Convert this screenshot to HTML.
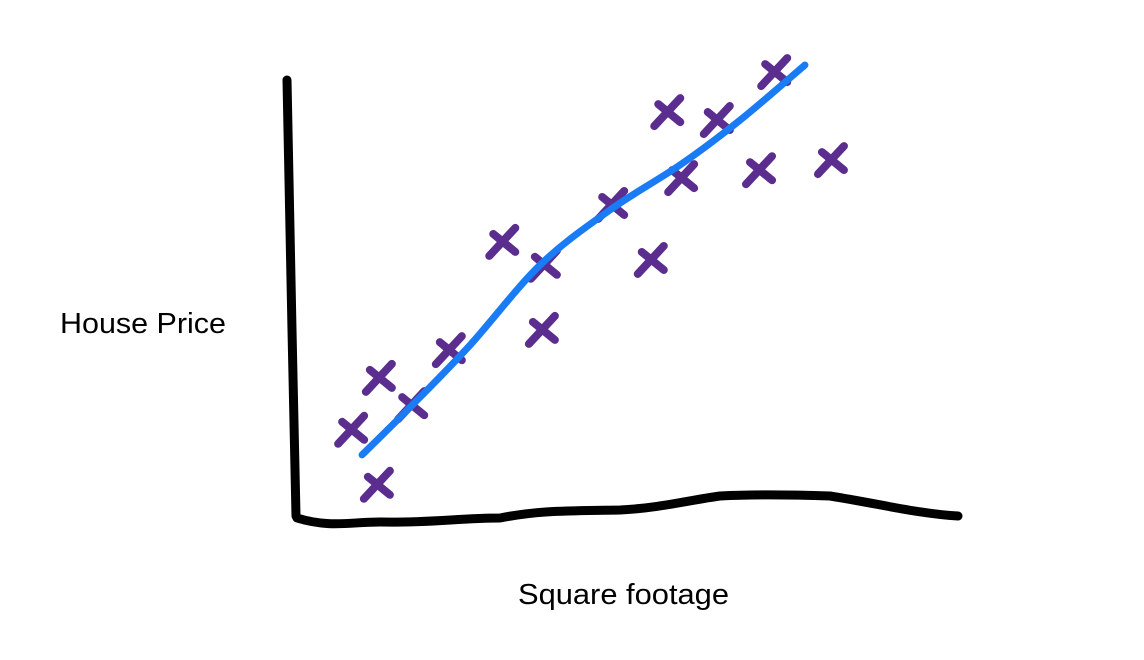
<!DOCTYPE html>
<html><head><meta charset="utf-8"><style>
html,body{margin:0;padding:0;background:#fff;width:1144px;height:660px;overflow:hidden}
text{font-family:"Liberation Sans",sans-serif;fill:#000}
</style></head><body>
<svg id="chart" width="1144" height="660" viewBox="0 0 1144 660" xmlns="http://www.w3.org/2000/svg">
<path d="M287,80 C289,150 290,250 292,330 C294,420 295,470 296,516" stroke="#000" stroke-width="9" fill="none" stroke-linecap="round"/>
<path d="M297,518 C330,528 350,522 380,522 C430,523 460,518 500,518 C540,510 570,511 620,510 C660,508 690,500 720,496 C760,494 800,495 830,496 C880,504 920,514 958,516" stroke="#000" stroke-width="9" fill="none" stroke-linecap="round"/>
<text x="60" y="333" font-size="29" textLength="166" lengthAdjust="spacingAndGlyphs">House Price</text>
<text x="518" y="604" font-size="29" textLength="211" lengthAdjust="spacingAndGlyphs">Square footage</text>
<g id="marks"></g>
<g id="fit"></g>
</svg>
<script>
const pointX=[7.9,12.1,17.0,22.7,11.8,30.8,37.1,36.8,47.3,53.3,55.8,63.3,57.9,69.7,72.0,80.6];
const pointY=[20.5,32.3,26.1,38.6,8.0,63.2,58.0,43.2,71.6,59.1,92.7,90.9,77.7,79.5,101.8,81.8];
const fitX=[9.4,17,25.8,36.4,47,57.6,66.7,76.5];
const fitY=[14.8,26.1,39.8,58,70.5,80.7,90.9,103.4];
function sx(v){return 300+v*6.6;}
function sy(v){return 520-v*4.4;}
const NS="http://www.w3.org/2000/svg";
const marks=document.getElementById('marks');
for(let i=0;i<pointX.length;i++){
  const cx=sx(pointX[i]),cy=sy(pointY[i]);
  const p=document.createElementNS(NS,'path');
  p.setAttribute('d',`M${cx-14},${cy+14} L${cx+12},${cy-14} M${cx-10},${cy-8} L${cx+12},${cy+10}`);
  p.setAttribute('stroke','#5b2d8e');
  p.setAttribute('stroke-width','8');
  p.setAttribute('stroke-linecap','round');
  p.setAttribute('fill','none');
  
  
  marks.appendChild(p);
}
// smooth line via Catmull-Rom
const pts=fitX.map((v,i)=>[sx(v),sy(fitY[i])]);
let d='M'+pts[0][0]+','+pts[0][1];
for(let i=0;i<pts.length-1;i++){
  const p0=pts[Math.max(0,i-1)],p1=pts[i],p2=pts[i+1],p3=pts[Math.min(pts.length-1,i+2)];
  const c1=[p1[0]+(p2[0]-p0[0])/6,p1[1]+(p2[1]-p0[1])/6];
  const c2=[p2[0]-(p3[0]-p1[0])/6,p2[1]-(p3[1]-p1[1])/6];
  d+=` C${c1[0]},${c1[1]} ${c2[0]},${c2[1]} ${p2[0]},${p2[1]}`;
}
const line=document.createElementNS(NS,'path');
line.setAttribute('d',d);
line.setAttribute('stroke','#1a7cf5');
line.setAttribute('stroke-width','7');
line.setAttribute('stroke-linecap','round');
line.setAttribute('stroke-linejoin','round');
line.setAttribute('fill','none');


document.getElementById('fit').appendChild(line);
</script>
</body></html>
